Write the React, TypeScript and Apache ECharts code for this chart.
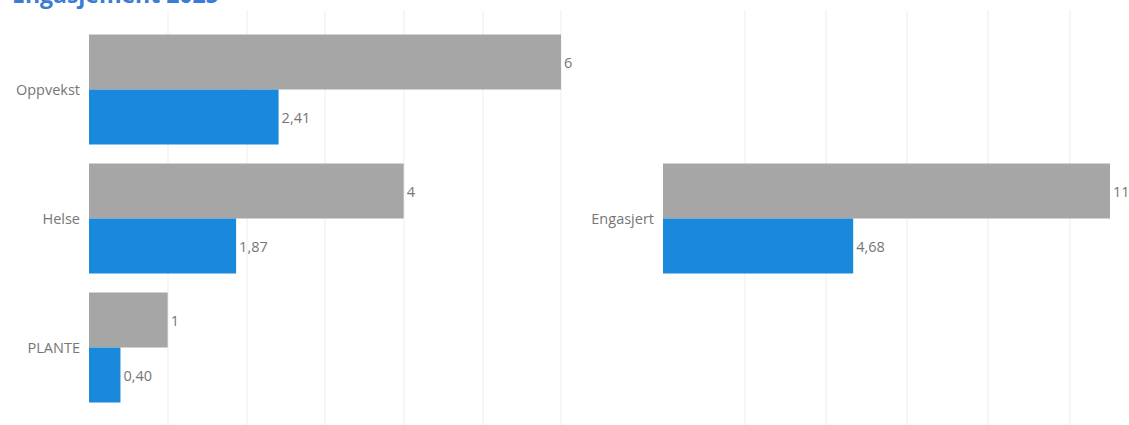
import React, { useEffect, useRef } from "react";
import * as echarts from "echarts";

const titleText = "Engasjement 2025";
const leftCategories = ["Oppvekst", "Helse", "PLANTE"];
const leftTotal = [6, 4, 1];
const leftRate = [2.41, 1.87, 0.4];
const rightCategories = ["Engasjert"];
const rightTotal = [11];
const rightRate = [4.68];

const GRAY = "#a6a6a6";
const BLUE = "#1a88db";
const LABEL = "#767676";
const FONT = "'Open Sans', 'Noto Sans', sans-serif";

const fmtInt = (p: any) => String(p.value);
const fmtDec = (p: any) => Number(p.value).toFixed(2).replace(".", ",");

export default function App() {
  const ref = useRef<HTMLDivElement>(null);
  useEffect(() => {
    if (!ref.current) return;
    const chart = echarts.init(ref.current, undefined, { renderer: "svg" });
    const hiddenX = {
      axisLabel: { show: false },
      axisLine: { show: false },
      axisTick: { show: false },
      splitLine: { show: false },
    };
    const lineX = (gridIndex: number, max: number, interval: number) => ({
      type: "value",
      gridIndex,
      min: 0,
      max,
      interval,
      axisLabel: { show: false },
      axisLine: { show: false },
      axisTick: { show: false },
      splitLine: {
        show: true,
        showMinLine: false,
        showMaxLine: gridIndex === 2,
        lineStyle: { color: "#f6f6f6", width: 2 },
      },
    });
    const catY = (gridIndex: number, data: string[], show: boolean) => ({
      type: "category",
      gridIndex,
      data,
      inverse: true,
      show,
      axisLine: { show: false },
      axisTick: { show: false },
      axisLabel: {
        show,
        color: LABEL,
        fontFamily: FONT,
        fontSize: 14.5,
        margin: 9,
      },
    });
    const barLabel = (fmt: any) => ({
      show: true,
      position: "right",
      distance: 3,
      color: LABEL,
      fontFamily: FONT,
      fontSize: 14.5,
      formatter: fmt,
    });
    chart.setOption({
      animation: false,
      title: {
        text: titleText,
        left: 7,
        top: -23,
        textStyle: {
          color: "#3a7bd5",
          fontFamily: FONT,
          fontWeight: "bold",
          fontSize: 23,
        },
      },
      grid: [
        { left: 89, right: 568, top: 25, bottom: 13 },
        { left: 663, right: 19, top: 25, bottom: 13 },
        { left: 89, right: 568, top: 10, bottom: -40 },
        { left: 663, right: 19, top: 10, bottom: -40 },
      ],
      xAxis: [
        { type: "value", gridIndex: 0, min: 0, max: 6, interval: 1, ...hiddenX },
        { type: "value", gridIndex: 1, min: 0, max: 11, interval: 2, ...hiddenX },
        lineX(2, 6, 1),
        lineX(3, 11, 2),
      ],
      yAxis: [
        catY(0, leftCategories, true),
        catY(1, rightCategories, true),
        catY(2, [], false),
        catY(3, [], false),
      ],
      series: [
        {
          type: "bar",
          xAxisIndex: 0,
          yAxisIndex: 0,
          data: leftTotal,
          barWidth: 55,
          barGap: "0%",
          itemStyle: { color: GRAY },
          label: barLabel(fmtInt),
        },
        {
          type: "bar",
          xAxisIndex: 0,
          yAxisIndex: 0,
          data: leftRate,
          barWidth: 55,
          barGap: "0%",
          itemStyle: { color: BLUE },
          label: barLabel(fmtDec),
        },
        {
          type: "bar",
          xAxisIndex: 1,
          yAxisIndex: 1,
          data: rightTotal,
          barWidth: 55,
          barGap: "0%",
          itemStyle: { color: GRAY },
          label: barLabel(fmtInt),
        },
        {
          type: "bar",
          xAxisIndex: 1,
          yAxisIndex: 1,
          data: rightRate,
          barWidth: 55,
          barGap: "0%",
          itemStyle: { color: BLUE },
          label: barLabel(fmtDec),
        },
      ],
    });
    return () => chart.dispose();
  }, []);
  return (
    <div
      ref={ref}
      style={{ position: "absolute", left: 0, top: 0, width: 1129, height: 425, background: "#fff" }}
    />
  );
}
